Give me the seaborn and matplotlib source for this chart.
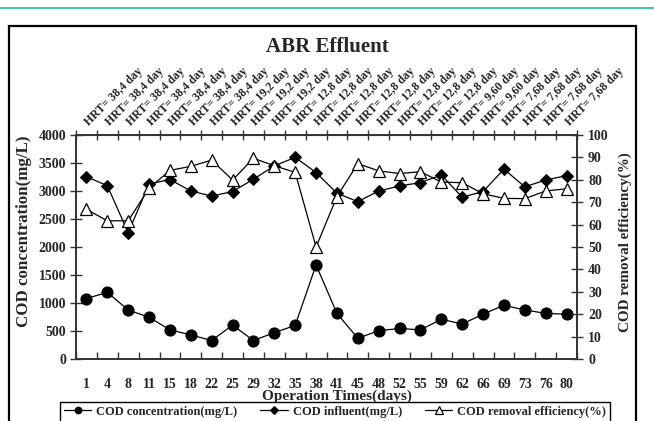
import numpy as np
import pandas as pd
import matplotlib
matplotlib.use("Agg")
import matplotlib.pyplot as plt
import matplotlib.transforms as mtransforms
import seaborn as sns
from matplotlib.lines import Line2D
from matplotlib.patches import Rectangle

# operation days (categorical x axis)
days = [1, 4, 8, 11, 15, 18, 22, 25, 29, 32, 35, 38,
        41, 45, 48, 52, 55, 59, 62, 66, 69, 73, 76, 80]

# hydraulic retention time shown above each day
hrt_days = ["38,4", "38,4", "38,4", "38,4", "38,4", "38,4", "38,4",
            "19,2", "19,2", "19,2",
            "12,8", "12,8", "12,8", "12,8", "12,8", "12,8", "12,8", "12,8",
            "9,60", "9,60",
            "7,68", "7,68", "7,68", "7,68"]

# COD effluent concentration (mg/L)
cod_effluent = [1080, 1190, 875, 745, 520, 430, 330, 605, 330, 470, 600, 1680,
                815, 370, 505, 545, 520, 710, 625, 800, 960, 875, 815, 800]

# COD influent (mg/L)
cod_influent = [3255, 3095, 2255, 3125, 3205, 3000, 2910, 2990, 3210, 3450, 3600, 3330,
                2960, 2810, 3000, 3090, 3150, 3285, 2890, 2990, 3390, 3075, 3195, 3275]

# COD removal efficiency (%)
removal_eff = [66.8, 61.7, 61.7, 76.2, 84.2, 86.0, 88.8, 79.9, 89.6, 86.3, 83.3, 50.0,
               72.5, 87.2, 84.0, 82.8, 83.6, 79.0, 78.7, 73.8, 71.7, 71.6, 75.0, 76.0]

labels = ["COD concentration(mg/L)", "COD influent(mg/L)", "COD removal efficiency(%)"]

df = pd.DataFrame({
    "pos": np.arange(len(days)),
    "effluent": cod_effluent,
    "influent": cod_influent,
    "removal": removal_eff,
})

sns.set_style("ticks")
plt.rcParams["font.family"] = ["Liberation Serif", "DejaVu Serif"]
plt.rcParams["font.weight"] = "bold"
plt.rcParams["axes.labelweight"] = "bold"

W, H = 654, 421
fig = plt.figure(figsize=(W / 100, H / 100), dpi=100)
fig.patch.set_facecolor("white")

ax_l, ax_r, ax_t, ax_b = 76, 577, 135, 359
ax = fig.add_axes([ax_l / W, 1 - ax_b / H, (ax_r - ax_l) / W, (ax_b - ax_t) / H])
ax2 = ax.twinx()

sns.lineplot(data=df, x="pos", y="effluent", ax=ax, color="black", lw=0.9,
             marker="o", markersize=8, markerfacecolor="black",
             markeredgecolor="black", label=labels[0])
sns.lineplot(data=df, x="pos", y="influent", ax=ax, color="black", lw=0.9,
             marker="D", markersize=6.5, markerfacecolor="black",
             markeredgecolor="black", label=labels[1])
sns.lineplot(data=df, x="pos", y="removal", ax=ax2, color="black", lw=0.9,
             marker="^", markersize=9, markerfacecolor="white",
             markeredgecolor="black", markeredgewidth=0.9, label=labels[2])

for a in (ax, ax2):
    if a.get_legend() is not None:
        a.get_legend().remove()

# axes limits / ticks
ax.set_xlim(-0.5, len(days) - 0.5)
ax.set_ylim(0, 4000)
ax.set_yticks(range(0, 4001, 500))
ax2.set_ylim(0, 100)
ax2.set_yticks(range(0, 101, 10))

ax.set_xticks(range(len(days)))
ax.set_xticklabels([str(d) for d in days])
ax.set_xticks(np.arange(-0.5, len(days), 1), minor=True)
ax.tick_params(axis="x", which="major", length=0, pad=14, labelsize=10)
ax.tick_params(axis="x", which="minor", direction="in", length=5, width=1,
               color="#333333")
ax.tick_params(axis="y", direction="inout", length=8, width=1, pad=3,
               labelsize=10, color="#333333")
ax2.tick_params(axis="y", direction="inout", length=8, width=1, pad=4,
                labelsize=10, color="#333333")

top = ax.secondary_xaxis("top")
top.set_xticks(np.arange(-0.5, len(days), 1))
top.set_xticklabels([])
top.tick_params(direction="inout", length=7, width=1, color="#333333")
top.spines["top"].set_color("#333333")

for a in (ax, ax2):
    for s in a.spines.values():
        s.set_color("#333333")
        s.set_linewidth(1.2)

for t in ax.get_xticklabels() + ax.get_yticklabels() + ax2.get_yticklabels():
    t.set_fontweight("bold")

# axis labels
ax.set_xlabel("Operation Times(days)", fontsize=11, fontweight="bold", va="center")
ax.xaxis.set_label_coords(0.52, -0.168)
ax.set_ylabel("COD concentration(mg/L)", fontsize=12.2, fontweight="bold", va="center")
ax.yaxis.set_label_coords(-0.104, 0.57)
ax2.set_ylabel("COD removal efficiency(%)", fontsize=10.9, fontweight="bold",
               va="center", rotation=90)
ax2.yaxis.set_label_coords(1.096, 0.52)

# HRT labels above each day
trans = mtransforms.blended_transform_factory(ax.transData, ax.transAxes)
for i, h in enumerate(hrt_days):
    ax.annotate(f"HRT= {h} day", xy=(i, 1), xycoords=trans,
                xytext=(5, 7), textcoords="offset pixels",
                rotation=45, rotation_mode="anchor", ha="left", va="bottom",
                fontsize=8.5, fontweight="bold")

fig.text(327 / W, 1 - 47 / H, "ABR Effluent", ha="center", va="center",
         fontsize=15, fontweight="bold")

# legend at the bottom
handles = [ax.lines[0], ax.lines[1], ax2.lines[0]]
leg = fig.legend(handles, labels, loc="upper left",
                 bbox_to_anchor=(60 / W, 1 - 402 / H - 0.08, 550 / W, 0.08),
                 mode="expand", ncol=3, frameon=True, fancybox=False,
                 edgecolor="black", framealpha=1, markerscale=0.6,
                 handlelength=2.2, handletextpad=0.4, borderpad=0.3,
                 borderaxespad=0, prop={"weight": "bold", "size": 9})
leg.get_frame().set_linewidth(1)

# outer frame and decorative line at top
fig.add_artist(Rectangle((9 / W, -0.1), (636 - 9) / W, 1 - 26 / H + 0.1,
                         transform=fig.transFigure, fill=False,
                         edgecolor="black", linewidth=1.6))
fig.add_artist(Line2D([0, 1], [1 - 8 / H, 1 - 8 / H], transform=fig.transFigure,
                      color="#45c8b4", linewidth=1.5))

fig.savefig("out.png", dpi=100)
